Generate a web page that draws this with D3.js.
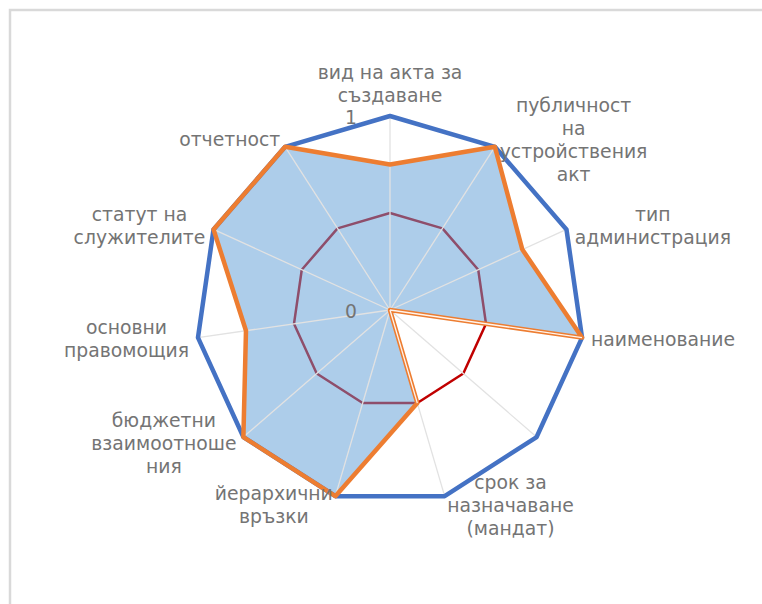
<!DOCTYPE html>
<html>
<head>
<meta charset="utf-8">
<script src="https://cdn.jsdelivr.net/npm/d3@7/dist/d3.min.js"></script>
<style>
  html, body { margin: 0; padding: 0; background: #ffffff; }
  svg { display: block; }
  text { font-family: "DejaVu Sans", sans-serif; }
</style>
</head>
<body>
<svg id="chart" width="762" height="604"></svg>
<script>
// ---- data ----
const categories = [
  "вид на акта за\nсъздаване",
  "публичност\nна\nустройствения\nакт",
  "тип\nадминистрация",
  "наименование",
  "",
  "срок за\nназначаване\n(мандат)",
  "йерархични\nвръзки",
  "бюджетни\nвзаимоотноше\nния",
  "основни\nправомощия",
  "статут на\nслужителите",
  "отчетност"
];
const seriesMax    = [1, 1, 1, 1, 1, 1, 1, 1, 1, 1, 1];
const seriesActual = [0.75, 1, 0.75, 1, 0, 0.5, 1, 1, 0.75, 1, 1];
const seriesHalf   = [0.5, 0.5, 0.5, 0.5, 0.5, 0.5, 0.5, 0.5, 0.5, 0.5, 0.5];
const tickValues = [0, 1];
const tickLabels = ["0", "1"];

// ---- layout ----
const W = 762, H = 604;
const cx = 390, cy = 310, R = 194;
const n = categories.length;
const labelFont = 18.8, lineH = 23, labelGap = 9;
const textColor = "#747474";

const svg = d3.select("#chart");

// frame
svg.append("rect")
  .attr("x", 10).attr("y", 10).attr("width", 800).attr("height", 700)
  .attr("fill", "none").attr("stroke", "#d9d9d9").attr("stroke-width", 2.5);

const r = d3.scaleLinear().domain([0, 1]).range([0, R]);
const ang = d3.scaleLinear().domain([0, n]).range([0, 2 * Math.PI]);

const g = svg.append("g").attr("transform", `translate(${cx},${cy})`);

const radial = d3.lineRadial()
  .angle((d, i) => ang(i))
  .radius(d => r(d))
  .curve(d3.curveLinearClosed);

function pt(i, v) {
  const a = ang(i);
  return [r(v) * Math.sin(a), -r(v) * Math.cos(a)];
}

// red half series (below the fill)
g.append("path").datum(seriesHalf)
  .attr("d", radial)
  .attr("fill", "none").attr("stroke", "#c00000").attr("stroke-width", 2.5)
  .attr("stroke-linejoin", "round");

// filled area
g.append("path").datum(seriesActual)
  .attr("d", radial)
  .attr("fill", "#5b9bd5").attr("fill-opacity", 0.5).attr("stroke", "none");

// spokes
g.selectAll("line.spoke").data(d3.range(n)).enter().append("line")
  .attr("class", "spoke")
  .attr("x1", 0).attr("y1", 0)
  .attr("x2", i => pt(i, 1)[0]).attr("y2", i => pt(i, 1)[1])
  .attr("stroke", "#e2e2e2").attr("stroke-width", 1.3);

// blue max series
g.append("path").datum(seriesMax)
  .attr("d", radial)
  .attr("fill", "none").attr("stroke", "#4472c4").attr("stroke-width", 4.5)
  .attr("stroke-linejoin", "round");

// orange actual series
g.append("path").datum(seriesActual)
  .attr("d", radial)
  .attr("fill", "none").attr("stroke", "#ed7d31").attr("stroke-width", 4.5)
  .attr("stroke-linejoin", "round");

// light centre stripe on segments touching a zero value
const zeroSegs = [];
seriesActual.forEach((v, i) => {
  const j = (i + 1) % n;
  if (v === 0 || seriesActual[j] === 0) zeroSegs.push([i, j]);
});
g.selectAll("line.zseg").data(zeroSegs).enter().append("line")
  .attr("class", "zseg")
  .attr("x1", d => pt(d[0], seriesActual[d[0]])[0])
  .attr("y1", d => pt(d[0], seriesActual[d[0]])[1])
  .attr("x2", d => pt(d[1], seriesActual[d[1]])[0])
  .attr("y2", d => pt(d[1], seriesActual[d[1]])[1])
  .attr("stroke", "#fff4ec").attr("stroke-width", 1.3);

// radial axis tick labels
g.selectAll("text.tick").data(tickValues).enter().append("text")
  .attr("class", "tick")
  .attr("x", -33).attr("y", d => -r(d) + 1)
  .attr("dy", "0.36em")
  .attr("text-anchor", "end")
  .attr("font-size", labelFont)
  .attr("fill", textColor)
  .text((d, i) => tickLabels[i]);

// category labels
categories.forEach((lab, i) => {
  if (!lab) return;
  const lines = lab.split("\n");
  const a = ang(i);
  const s = Math.sin(a), c = -Math.cos(a);
  const vx = (R + labelGap) * s, vy = (R + labelGap) * c;
  const t = g.append("text")
    .attr("font-size", labelFont)
    .attr("fill", textColor)
    .attr("text-anchor", "middle");
  const spans = lines.map(l => t.append("tspan").text(l));
  const w = d3.max(spans, sp => sp.node().getComputedTextLength());
  const h = lines.length * lineH;
  let bx, by;
  if (Math.abs(s) < 0.1) bx = vx;
  else if (s > 0) bx = vx + w / 2;
  else bx = vx - w / 2;
  if (Math.abs(s) < 0.1) by = (c < 0) ? vy - h / 2 : vy + h / 2;
  else by = vy;
  const top = by - h / 2;
  spans.forEach((sp, k) => {
    sp.attr("x", bx).attr("y", top + lineH * (k + 0.5)).attr("dy", "0.36em");
  });
});
</script>
</body>
</html>
